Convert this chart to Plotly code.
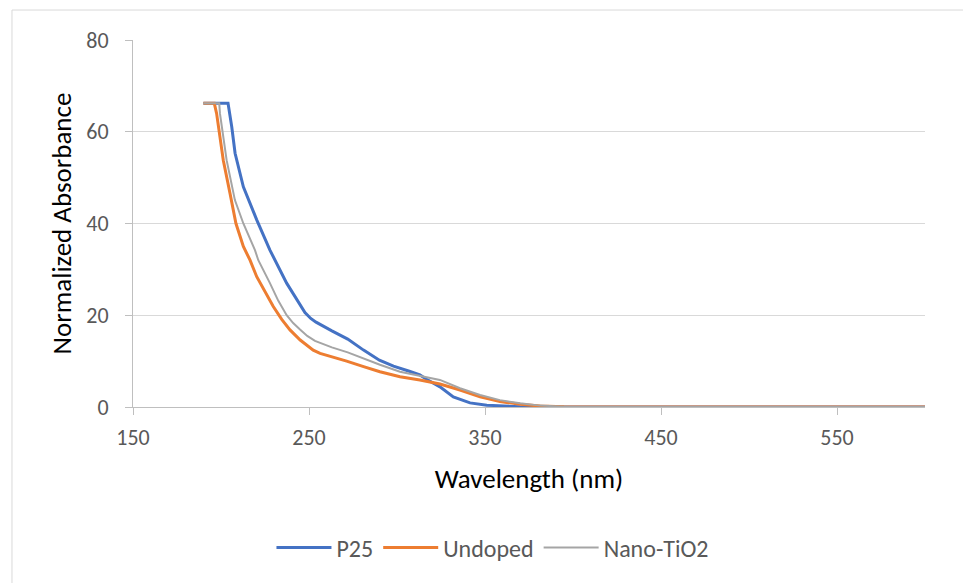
import plotly.graph_objects as go

# P25
p25_x = [190, 204, 206.1, 208, 212.7, 220.3, 227.8, 237.3, 247.7, 251, 254, 258, 263, 272, 281, 290, 298, 307, 313, 317, 324.4, 332, 341.5, 351, 360, 370, 385, 400, 450, 500, 550, 600]
p25_y = [66.2, 66.2, 61.1, 55.3, 48.0, 40.8, 34.2, 27.0, 20.6, 19.3, 18.5, 17.6, 16.6, 14.8, 12.4, 10.2, 8.9, 7.8, 7.0, 6.0, 4.4, 2.2, 0.9, 0.4, 0.2, 0.07, 0.02, 0, 0, 0, 0, 0]

# Undoped
und_x = [190, 196.2, 197.5, 201.3, 205.1, 208.5, 212.7, 216.5, 220.3, 225, 229.7, 234.5, 239.2, 245, 249, 252.4, 256.3, 263, 271.4, 281, 290.3, 301.7, 313, 324.4, 335.8, 347.2, 358.5, 370, 381.3, 395, 420, 500, 600]
und_y = [66.2, 66.2, 64.0, 53.8, 46.6, 40.0, 35.0, 32.0, 28.4, 25.0, 21.9, 19.1, 16.8, 14.6, 13.3, 12.4, 11.7, 11.0, 10.0, 8.8, 7.7, 6.6, 5.9, 5.0, 3.7, 2.2, 1.2, 0.6, 0.2, 0.05, 0, 0, 0]

# Nano-TiO2
nano_x = [190, 199, 199.4, 203.2, 207.9, 212.7, 219.3, 221.2, 227.8, 232.5, 237.3, 241, 244.9, 249, 253.4, 263, 272, 281, 290.3, 301.7, 313, 324.4, 335.8, 347.2, 358.5, 370, 381.3, 398, 420, 500, 600]
nano_y = [66.2, 66.2, 64.0, 53.8, 45.1, 40.0, 34.2, 32.0, 27.0, 23.2, 20.0, 18.3, 16.9, 15.5, 14.4, 13.0, 11.9, 10.5, 9.2, 7.7, 6.8, 5.9, 4.1, 2.6, 1.5, 0.8, 0.3, 0.02, 0, 0, 0]

x_ticks = [150, 250, 350, 450, 550]
y_ticks = [0, 20, 40, 60, 80]

FONT = "Carlito, Calibri, Lato, 'Open Sans', sans-serif"

fig = go.Figure()
fig.add_trace(go.Scatter(x=p25_x, y=p25_y, mode="lines", name="P25",
                         line=dict(color="#4472C4", width=3)))
fig.add_trace(go.Scatter(x=und_x, y=und_y, mode="lines", name="Undoped",
                         line=dict(color="#ED7D31", width=3)))
fig.add_trace(go.Scatter(x=nano_x, y=nano_y, mode="lines", name="Nano-TiO2",
                         line=dict(color="#A5A5A5", width=2)))

fig.update_layout(
    width=971, height=583,
    margin=dict(l=125, r=54, t=32, b=184),
    paper_bgcolor="white", plot_bgcolor="white",
    font=dict(family=FONT, size=22, color="#595959"),
    showlegend=True,
    legend=dict(orientation="h", x=0.4545, xanchor="center", y=-0.384, yanchor="middle",
                font=dict(size=24, color="#595959"), traceorder="normal", itemwidth=55),
    xaxis=dict(range=[150, 600], tickvals=x_ticks, ticktext=[str(v) for v in x_ticks],
               showgrid=False, zeroline=False, showline=True, linecolor="#bfbfbf", linewidth=1,
               ticks="outside", ticklen=7, tickcolor="#bfbfbf", ticklabelstandoff=4,
               tickfont=dict(size=22, color="#595959"),
               title=dict(text="Wavelength (nm)", font=dict(size=27, color="#000000"), standoff=18)),
    yaxis=dict(range=[0, 80], tickvals=y_ticks, showgrid=True, gridcolor="#d9d9d9", gridwidth=1,
               zeroline=False, showline=True, linecolor="#bfbfbf", linewidth=1,
               ticks="outside", ticklen=7, tickcolor="#bfbfbf", ticklabelstandoff=12,
               tickfont=dict(size=22, color="#595959"),
               title=dict(text="Normalized Absorbance", font=dict(size=27, color="#000000"), standoff=6)),
    shapes=[dict(type="rect", xref="paper", yref="paper", x0=-0.1528, x1=1.2, y0=-0.7, y1=1.0817,
                 line=dict(color="#d9d9d9", width=1), fillcolor="rgba(0,0,0,0)", layer="below")],
)

fig.write_html("out.html")
